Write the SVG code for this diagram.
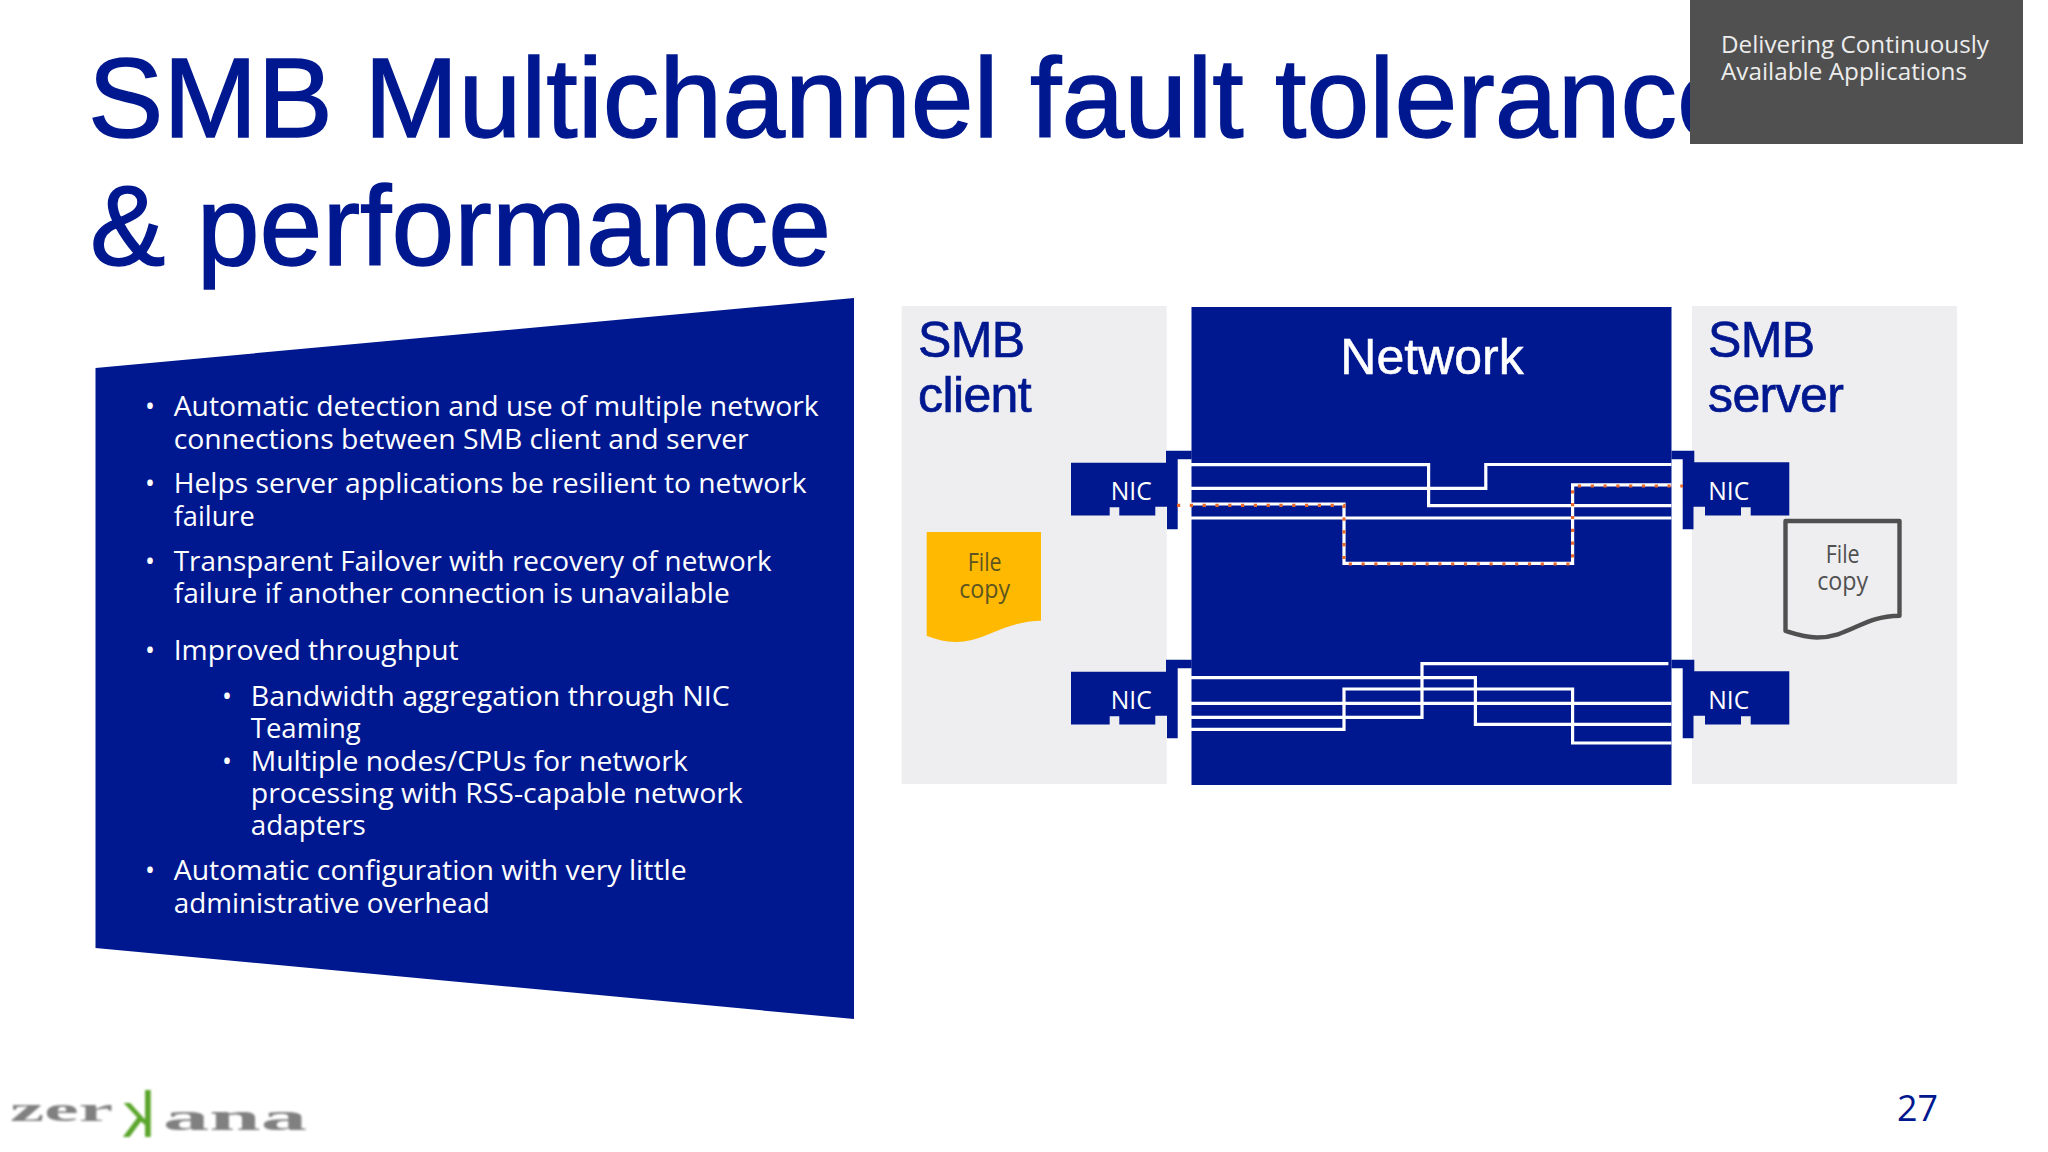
<svg xmlns="http://www.w3.org/2000/svg" width="2048" height="1152" viewBox="0 0 2048 1152">
<defs>
<style>
.blue{fill:#00188f}
.panel{fill:#eeeef0}
.t{font-family:"Liberation Sans",Arial,sans-serif;fill:#00188f}
.h1{font-size:113px;stroke:#00188f;stroke-width:1.4}
.h2{font-size:50px;stroke:#00188f;stroke-width:.7;letter-spacing:-.6px}
.b{font-family:"Open Sans","Noto Sans",sans-serif;font-size:26.5px;fill:#fff}
.nic{font-family:"Open Sans","Noto Sans",sans-serif;font-size:25px;fill:#fff}
.doc{font-family:"Open Sans","Noto Sans",sans-serif;font-size:25px;text-anchor:middle}
.w{fill:none;stroke:#fff;stroke-width:3.2}
.o{fill:none;stroke:#e8682a;stroke-width:3.2;stroke-dasharray:3.2 9.6}
</style>
<filter id="soft" x="-5%" y="-10%" width="110%" height="120%"><feGaussianBlur stdDeviation="1.2"/></filter>
</defs>
<rect width="2048" height="1152" fill="#fff"/>
<g id="title"><text class="t h1" x="88" y="137">SMB Multichannel fault tolerance</text><text class="t h1" x="90" y="265">&amp; performance</text></g>
<g id="badge"><rect x="1690" y="0" width="333" height="144" fill="#505050"/>
<text x="1721" y="53" font-family="Open Sans,Noto Sans,sans-serif" font-size="24" fill="#ececec" textLength="268" lengthAdjust="spacingAndGlyphs">Delivering Continuously</text>
<text x="1721" y="80" font-family="Open Sans,Noto Sans,sans-serif" font-size="24" fill="#ececec" textLength="246" lengthAdjust="spacingAndGlyphs">Available Applications</text></g>
<g id="bullets">
<polygon class="blue" points="95.5,368 854,298 854,1019 95.5,948"/>
<text class="b" x="145" y="416">•</text><text class="b" x="173.7" y="416" textLength="645" lengthAdjust="spacingAndGlyphs">Automatic detection and use of multiple network</text>
<text class="b" x="173.7" y="449" textLength="575" lengthAdjust="spacingAndGlyphs">connections between SMB client and server</text>
<text class="b" x="145" y="493">•</text><text class="b" x="173.7" y="493" textLength="633" lengthAdjust="spacingAndGlyphs">Helps server applications be resilient to network</text>
<text class="b" x="173.7" y="526" textLength="81" lengthAdjust="spacingAndGlyphs">failure</text>
<text class="b" x="145" y="571">•</text><text class="b" x="173.7" y="571" textLength="598" lengthAdjust="spacingAndGlyphs">Transparent Failover with recovery of network</text>
<text class="b" x="173.7" y="603" textLength="556" lengthAdjust="spacingAndGlyphs">failure if another connection is unavailable</text>
<text class="b" x="145" y="660">•</text><text class="b" x="173.7" y="660" textLength="285" lengthAdjust="spacingAndGlyphs">Improved throughput</text>
<text class="b" x="222" y="706">•</text><text class="b" x="250.8" y="706" textLength="479" lengthAdjust="spacingAndGlyphs">Bandwidth aggregation through NIC</text>
<text class="b" x="250.8" y="738" textLength="110" lengthAdjust="spacingAndGlyphs">Teaming</text>
<text class="b" x="222" y="771">•</text><text class="b" x="250.8" y="771" textLength="437" lengthAdjust="spacingAndGlyphs">Multiple nodes/CPUs for network</text>
<text class="b" x="250.8" y="803" textLength="492" lengthAdjust="spacingAndGlyphs">processing with RSS-capable network</text>
<text class="b" x="250.8" y="835" textLength="115" lengthAdjust="spacingAndGlyphs">adapters</text>
<text class="b" x="145" y="880">•</text><text class="b" x="173.7" y="880" textLength="513" lengthAdjust="spacingAndGlyphs">Automatic configuration with very little</text>
<text class="b" x="173.7" y="913" textLength="316" lengthAdjust="spacingAndGlyphs">administrative overhead</text>
</g>
<g id="smb-client"><rect class="panel" x="901.7" y="306" width="265" height="478"/>
<text class="t h2" x="918" y="357">SMB</text><text class="t h2" x="918" y="412">client</text></g>
<g id="smb-server"><rect class="panel" x="1692" y="306" width="265" height="478"/>
<text class="t h2" x="1708" y="357">SMB</text><text class="t h2" x="1708" y="412">server</text></g>
<g id="network"><rect class="blue" x="1191.5" y="307" width="480" height="478"/>
<text class="t" style="fill:#fff;stroke:#fff;stroke-width:.5" x="1432" y="374" font-size="50" text-anchor="middle">Network</text></g>
<g id="client-nic-1"><path class="blue" d="M1071,462.7H1166V450.7H1191.7V459.3H1177.7V529.3H1167V506.7H1155.3V515.5H1119.3V507.3H1109.7V515.5H1071Z"/>
<text class="nic" x="1110.7" y="499.5" textLength="41" lengthAdjust="spacingAndGlyphs">NIC</text></g>
<g id="client-nic-2"><path class="blue" transform="translate(0,209)" d="M1071,462.7H1166V450.7H1191.7V459.3H1177.7V529.3H1167V506.7H1155.3V515.5H1119.3V507.3H1109.7V515.5H1071Z"/>
<text class="nic" x="1110.7" y="708.5" textLength="41" lengthAdjust="spacingAndGlyphs">NIC</text></g>
<g id="server-nic-1"><path class="blue" d="M1789.3,462.3H1694.3V450.7H1671.5V459.3H1682.7V529.3H1693.5V506.7H1705V515.5H1741V507.3H1750.7V515.5H1789.3Z"/>
<text class="nic" x="1708.3" y="499.5" textLength="41" lengthAdjust="spacingAndGlyphs">NIC</text></g>
<g id="server-nic-2"><path class="blue" transform="translate(0,209)" d="M1789.3,462.3H1694.3V450.7H1671.5V459.3H1682.7V529.3H1693.5V506.7H1705V515.5H1741V507.3H1750.7V515.5H1789.3Z"/>
<text class="nic" x="1708.3" y="708.5" textLength="41" lengthAdjust="spacingAndGlyphs">NIC</text></g>
<g id="connectors">
<path class="w" d="M1191,464.7H1428.6V505.7H1671.4"/>
<path class="w" d="M1191,488.3H1485.8V464.5H1671.4"/>
<path class="w" d="M1191,504H1344V563.3H1572.6V484.8H1671.4"/>
<path class="w" d="M1191,518H1671.4"/>
<path class="o" d="M1177,505.3H1344V564H1572.6V486H1683"/>
<path class="w" d="M1191,677.7H1475.4V724.3H1671.4"/>
<path class="w" d="M1191,703.3H1671.4"/>
<path class="w" d="M1191,717.3H1422V663.7H1668.4"/>
<path class="w" d="M1191,729.3H1344V689H1572.6V743H1671.4"/>
</g>
<g id="client-file"><path fill="#ffb900" d="M926.7,532H1041V620.7C1005,621 985,642 956,642C945,642 936,639 926.7,636Z"/>
<text class="doc" fill="#5d5520" x="984.7" y="571" textLength="34" lengthAdjust="spacingAndGlyphs">File</text><text class="doc" fill="#5d5520" x="984.7" y="598" textLength="51" lengthAdjust="spacingAndGlyphs">copy</text></g>
<g id="server-file"><path fill="none" stroke="#505050" stroke-width="4.4" stroke-linejoin="round" d="M1785.5,521H1899.5V615.7C1862,616 1850,637.5 1816.7,637.5C1805,637.5 1795,634 1785.5,631Z"/>
<text class="doc" fill="#505050" x="1842.7" y="562.5" textLength="34" lengthAdjust="spacingAndGlyphs">File</text><text class="doc" fill="#505050" x="1842.7" y="590" textLength="51" lengthAdjust="spacingAndGlyphs">copy</text></g>
<g id="page-number"><text x="1897" y="1121" font-family="Open Sans,Noto Sans,sans-serif" font-size="36" fill="#00188f" textLength="41" lengthAdjust="spacingAndGlyphs">27</text></g>
<g id="logo" filter="url(#soft)">
<text x="10" y="1121" font-family="Liberation Serif,serif" font-size="34" font-weight="bold" fill="#808080" textLength="103" lengthAdjust="spacingAndGlyphs">zer</text>
<text transform="translate(155,1137) scale(-1,1)" font-family="Liberation Sans,sans-serif" font-size="64" fill="#5aa52a">k</text>
<text x="163" y="1130" font-family="Liberation Serif,serif" font-size="38" font-weight="bold" fill="#808080" textLength="144" lengthAdjust="spacingAndGlyphs">ana</text>
</g>
</svg>
